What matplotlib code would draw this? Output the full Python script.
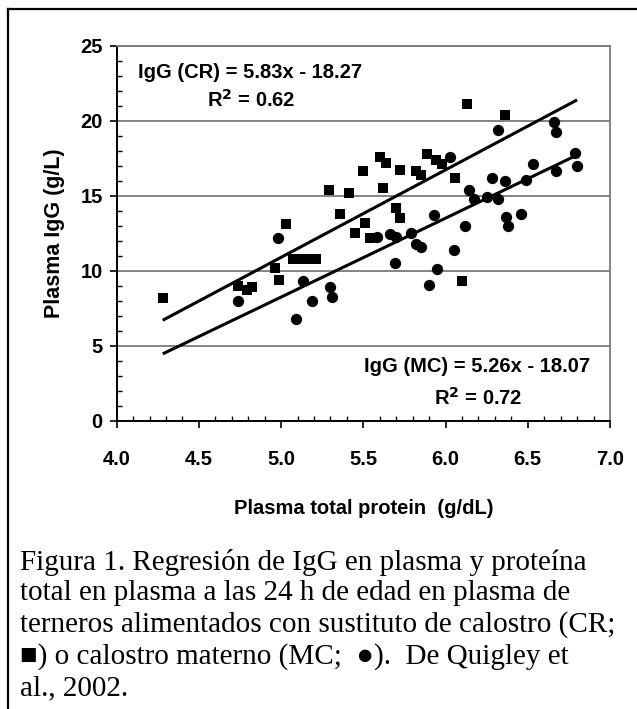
import matplotlib
matplotlib.use('Agg')
import matplotlib.pyplot as plt
from matplotlib.lines import Line2D
from matplotlib.ticker import MultipleLocator

# Colostrum replacer (CR, squares)
cr_protein = [4.28, 4.74, 4.79, 4.82, 4.96, 4.99, 5.03, 5.07, 5.12, 5.16,
              5.21, 5.29, 5.36, 5.41, 5.45, 5.51, 5.50, 5.54, 5.60, 5.64,
              5.62, 5.70, 5.72, 5.72, 5.82, 5.85, 5.89, 5.94, 5.98, 6.06,
              6.10, 6.13, 6.36]
cr_igg = [8.15, 9.0, 8.7, 8.9, 10.15, 9.35, 13.1, 10.8, 10.8, 10.8,
          10.8, 15.35, 13.8, 15.2, 12.5, 13.15, 16.65, 12.15, 17.6, 17.2,
          15.5, 14.2, 13.5, 16.7, 16.6, 16.4, 17.8, 17.35, 17.1, 16.15,
          9.3, 21.1, 20.4]

# Maternal colostrum (MC, circles)
mc_protein = [4.74, 4.98, 5.09, 5.13, 5.19, 5.30, 5.31, 5.58, 5.66, 5.69,
              5.70, 5.79, 5.82, 5.85, 5.90, 5.93, 5.95, 6.03, 6.05, 6.12,
              6.14, 6.17, 6.25, 6.28, 6.32, 6.32, 6.36, 6.37, 6.38, 6.46,
              6.49, 6.53, 6.66, 6.67, 6.67, 6.79, 6.80]
mc_igg = [7.95, 12.2, 6.8, 9.3, 8.0, 8.9, 8.25, 12.25, 12.45, 10.5,
          12.25, 12.5, 11.8, 11.6, 9.05, 13.7, 10.1, 17.55, 11.4, 13.0,
          15.4, 14.8, 14.9, 16.15, 14.8, 19.4, 15.95, 13.55, 12.95, 13.8,
          16.05, 17.1, 19.9, 19.25, 16.6, 17.85, 16.95]

# regression fits (slope, intercept) and their x range
cr_fit = (5.83, -18.27)
mc_fit = (5.26, -18.07)
fit_x = [4.28, 6.80]

x_ticks = [4.0, 4.5, 5.0, 5.5, 6.0, 6.5, 7.0]
y_ticks = [0, 5, 10, 15, 20, 25]

caption = ["Figura 1. Regresión de IgG en plasma y proteína",
           "total en plasma a las 24 h de edad en plasma de",
           "terneros alimentados con sustituto de calostro (CR;",
           "\u25A0) o calostro materno (MC;  \u25CF).  De Quigley et",
           "al., 2002."]

W, H = 637, 709
fig = plt.figure(figsize=(W / 100, H / 100), dpi=100)
ax = fig.add_axes([116.7 / W, 1 - 420.5 / H, (610 - 116.7) / W, (420.5 - 45.5) / H])

sans = ['Liberation Sans', 'DejaVu Sans']
fs = 14.5

# gridlines
for y in y_ticks[1:]:
    ax.axhline(y, color='#7a7a7a', lw=1.3, zorder=1)

ax.scatter(cr_protein, cr_igg, marker='s', s=55, c='black', zorder=3, linewidths=0)
ax.scatter(mc_protein, mc_igg, marker='o', s=66, c='black', zorder=3, linewidths=0)

for slope, icpt in (cr_fit, mc_fit):
    ax.plot(fit_x, [slope * x + icpt for x in fit_x], color='black', lw=2.2, zorder=2,
            solid_capstyle='butt')

ax.set_xlim(4.0, 7.0)
ax.set_ylim(0, 25)
ax.set_xticks(x_ticks)
ax.set_yticks(y_ticks)
ax.set_xticklabels(['%.1f' % v for v in x_ticks])
ax.xaxis.set_minor_locator(MultipleLocator(0.1))
ax.yaxis.set_minor_locator(MultipleLocator(1))

for lab in ax.get_xticklabels() + ax.get_yticklabels():
    lab.set_family(sans)
    lab.set_fontweight('bold')
    lab.set_fontsize(fs)

ax.tick_params(which='major', direction='out', length=5, width=1.2)
ax.tick_params(which='minor', direction='in', length=3.5, width=1.0)
ax.tick_params(axis='x', which='major', pad=16)
ax.tick_params(axis='y', which='major', pad=5)
ax.tick_params(top=False, right=False, which='both')

ax.spines['left'].set_linewidth(1.4)
ax.spines['bottom'].set_linewidth(1.4)
ax.spines['right'].set_color('#7a7a7a')
ax.spines['right'].set_linewidth(1.3)
ax.spines['top'].set_color('#7a7a7a')
ax.spines['top'].set_linewidth(1.3)

ax.set_xlabel('Plasma total protein  (g/dL)', family=sans, fontweight='bold',
              fontsize=fs, labelpad=22)
ax.set_ylabel('Plasma IgG (g/L)', family=sans, fontweight='bold',
              fontsize=15.5, labelpad=11)

# equations
ax.text(4.81, 23.2, 'IgG (CR) = 5.83x - 18.27', ha='center', va='center',
        family=sans, fontweight='bold', fontsize=fs)
ax.text(4.82, 21.35, 'R$^\\mathbf{2}$ = 0.62', ha='center', va='center',
        family=sans, fontweight='bold', fontsize=fs)
ax.text(6.19, 3.6, 'IgG (MC) = 5.26x - 18.07', ha='center', va='center',
        family=sans, fontweight='bold', fontsize=fs)
ax.text(6.2, 1.5, 'R$^\\mathbf{2}$ = 0.72', ha='center', va='center',
        family=sans, fontweight='bold', fontsize=fs)

# caption
serif = ['Liberation Serif', 'DejaVu Serif']
for i, line in enumerate(caption):
    fig.text(20 / W, 1 - (562 + 31.5 * i) / H, line, ha='left', va='center',
             family=serif, fontsize=21)

# frame (left and top edges)
fig.add_artist(Line2D([8 / W, 8 / W], [0, 1 - 9 / H], color='black', lw=1.6))
fig.add_artist(Line2D([8 / W, 1], [1 - 9 / H, 1 - 9 / H], color='black', lw=1.6))

fig.savefig('out.png', dpi=100)
